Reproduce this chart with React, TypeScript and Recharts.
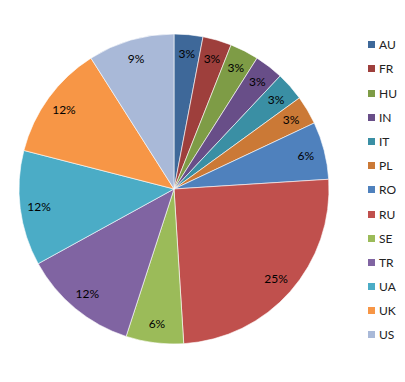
import { PieChart, Pie, Cell, Legend } from 'recharts';

// Country codes, in slice order (clockwise from 12 o'clock)
const countries = ['AU', 'FR', 'HU', 'IN', 'IT', 'PL', 'RO', 'RU', 'SE', 'TR', 'UA', 'UK', 'US'];

// Share of each country, in percent (as labelled on the slices)
const shares = [3, 3, 3, 3, 3, 3, 6, 25, 6, 12, 12, 12, 9];

// Excel-like palette: darker accents, normal accents, then a lighter one
const colors = [
    '#3E6899', '#9E3F3C', '#7E9C46', '#684E88', '#3A8FA4', '#CB7936',
    '#4F81BD', '#C0504D', '#9BBB59', '#8064A2', '#4BACC6', '#F79646',
    '#A9B9D8',
];

const data = countries.map((name, i) => ({ name, value: shares[i] }));

const RADIAN = Math.PI / 180;
const FONT = 'Lato, "Open Sans", sans-serif';

// Value labels sit just inside the outer edge, like Excel's "inside end"
function renderLabel(props: any) {
    const { cx, cy, midAngle, outerRadius, value } = props;
    const r = outerRadius - 19;
    const x = cx + r * Math.cos(-midAngle * RADIAN);
    const y = cy + r * Math.sin(-midAngle * RADIAN);
    return (
        <text
            x={x}
            y={y}
            fill="#000"
            fontSize={12}
            fontFamily={FONT}
            textAnchor="middle"
            dominantBaseline="central"
        >
            {`${value}%`}
        </text>
    );
}

function renderLegend() {
    return (
        <div style={{ fontFamily: FONT, fontSize: 12, color: '#222' }}>
            {data.map((entry, index) => (
                <div
                    key={`legend-${index}`}
                    style={{ display: 'flex', alignItems: 'center', height: 24.2 }}
                >
                    <span
                        style={{
                            display: 'inline-block',
                            width: 7,
                            height: 7,
                            background: colors[index],
                            marginRight: 4,
                        }}
                    ></span>
                    <span>{entry.name}</span>
                </div>
            ))}
        </div>
    );
}

export default function App() {
    return (
        <div style={{ position: 'absolute', left: 0, top: 0, background: '#fff' }}>
            <PieChart width={405} height={382} margin={{ top: 0, right: 0, bottom: 0, left: 0 }}>
                <Pie
                    data={data}
                    dataKey="value"
                    nameKey="name"
                    cx={174}
                    cy={189}
                    outerRadius={155}
                    startAngle={90}
                    endAngle={-270}
                    stroke="#ffffff"
                    strokeWidth={0.6}
                    labelLine={false}
                    label={renderLabel}
                    isAnimationActive={false}
                >
                    {data.map((entry, index) => (
                        <Cell key={`cell-${index}`} fill={colors[index]} />
                    ))}
                </Pie>
                <Legend
                    content={renderLegend}
                    wrapperStyle={{ position: 'absolute', left: 368, top: 32.6, width: 37 }}
                />
            </PieChart>
        </div>
    );
}
